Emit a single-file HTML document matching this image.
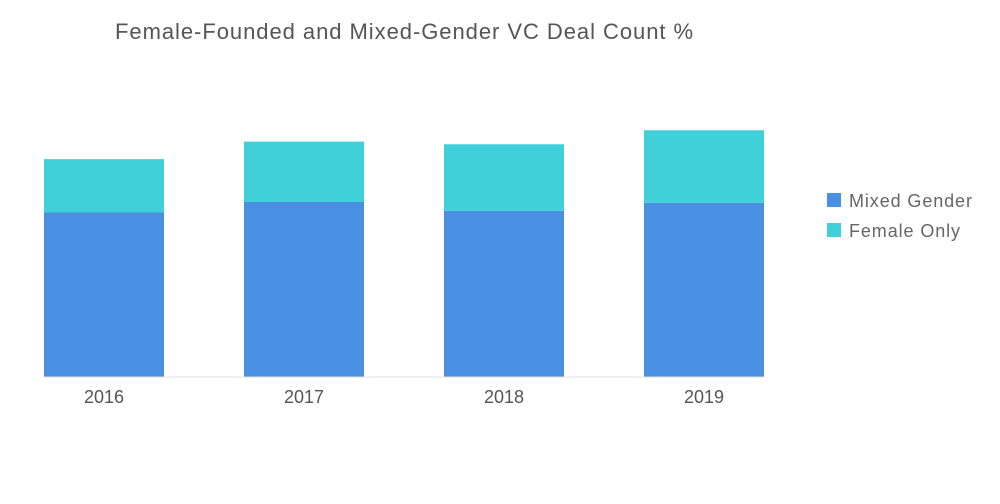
<!DOCTYPE html>
<html><head><meta charset="utf-8"><style>
body{margin:0;background:#fff;font-family:"Liberation Sans",sans-serif;}
#wrap{position:relative;width:1000px;height:504px;overflow:hidden;}
</style></head><body>
<div id="wrap">
<svg id="chart" width="1000" height="504">
<text x="115" y="39" font-size="22" fill="#555" letter-spacing="0.95">Female-Founded and Mixed-Gender VC Deal Count %</text>
<g id="bars"></g>
<g id="xlabels"></g>
<line x1="44" x2="764" y1="377" y2="377" stroke="#e0e0e0"/>
<g>
<rect x="827" y="193" width="14" height="14" fill="#4a90e2"/>
<text x="849" y="207" font-size="18" fill="#666" letter-spacing="0.9">Mixed Gender</text>
<rect x="827" y="223" width="14" height="14" fill="#3fd0d9"/>
<text x="849" y="237" font-size="18" fill="#666" letter-spacing="0.9">Female Only</text>
</g>
</svg>
</div>
<script>
const categories = ["2016","2017","2018","2019"];
const mixedGender = [9.4, 10.0, 9.5, 9.95];
const femaleOnly = [3.05, 3.45, 3.8, 4.15];
const NS="http://www.w3.org/2000/svg";
const baseY=377, pxPerUnit=17.5, x0=44, step=200, bw=120;
function xPos(i){return x0+i*step;}
function yScale(v){return v*pxPerUnit;}
const bars=document.getElementById('bars');
const xl=document.getElementById('xlabels');
categories.forEach((c,i)=>{
  const hm=yScale(mixedGender[i]), hf=yScale(femaleOnly[i]);
  const r1=document.createElementNS(NS,'rect');
  r1.setAttribute('x',xPos(i));r1.setAttribute('y',baseY-hm);r1.setAttribute('width',bw);r1.setAttribute('height',hm);r1.setAttribute('fill','#4a90e2');
  
  
  bars.appendChild(r1);
  const r2=document.createElementNS(NS,'rect');
  r2.setAttribute('x',xPos(i));r2.setAttribute('y',baseY-hm-hf);r2.setAttribute('width',bw);r2.setAttribute('height',hf);r2.setAttribute('fill','#3fd0d9');
  
  
  bars.appendChild(r2);
  const t=document.createElementNS(NS,'text');
  t.setAttribute('x',xPos(i)+bw/2);t.setAttribute('y',403);t.setAttribute('text-anchor','middle');t.setAttribute('font-size','18');t.setAttribute('fill','#555');
  t.textContent=c;
  
  
  xl.appendChild(t);
});
</script>
</body></html>
